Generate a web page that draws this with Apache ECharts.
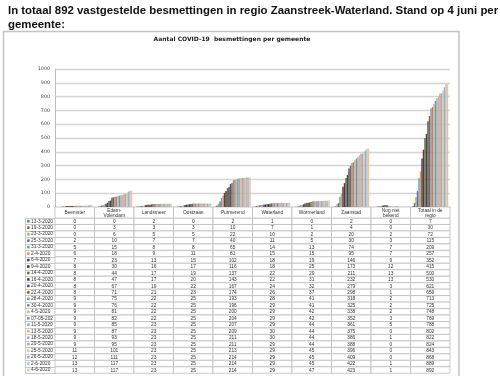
<!DOCTYPE html>
<html><head><meta charset="utf-8">
<script src="https://cdn.jsdelivr.net/npm/echarts@6/dist/echarts.min.js"></script>
<style>html,body{margin:0;padding:0;background:#fff;}#c{width:500px;height:376px;}</style>
</head><body><div id="c"></div>
<script>
const pageTitle = 'In totaal 892 vastgestelde besmettingen in regio Zaanstreek-Waterland. Stand op 4 juni per\ngemeente:';
const chartTitle = 'Aantal COVID-19  besmettingen per gemeente';
const categories = ['Beemster','Edam-\nVolendam','Landsmeer','Oostzaan','Purmerend','Waterland','Wormerland','Zaanstad','Nog niet\nbekend','Totaal in de\nregio'];
const dates = ['13-3-2020','19-3-2020','23-3-2020','25-3-2020','31-3-2020','2-4-2020','6-4-2020','9-4-2020','14-4-2020','16-4-2020','20-4-2020','22-4-2020','28-4-2020','30-4-2020','4-5-2020','07-05-202','11-5-2020','13-5-2020','18-5-2020','20-5-2020','25-5-2020','26-5-2020','2-6-2020','4-6-2020'];
const beemster     = [0,0,0,2,5,6,7,8,8,8,8,8,9,9,9,9,9,9,9,9,11,12,13,13];
const edamVolendam = [0,3,6,10,15,18,23,30,44,47,67,71,75,76,81,82,85,87,93,95,101,111,117,117];
const landsmeer    = [2,3,5,7,8,9,13,16,17,17,19,21,22,22,22,22,23,23,23,23,23,23,23,23];
const oostzaan     = [0,3,5,7,8,11,15,17,19,20,22,23,25,25,25,25,25,25,25,25,25,25,25,25];
const purmerend    = [2,10,22,40,65,81,102,116,137,143,167,174,193,196,200,204,207,209,211,211,213,214,214,214];
const waterland    = [1,7,10,11,14,15,18,18,22,22,24,26,28,29,29,29,29,30,30,29,29,29,29,29];
const wormerland   = [0,1,2,5,13,15,19,25,29,31,32,37,41,41,42,42,44,44,44,44,45,45,45,47];
const zaanstad     = [2,4,20,30,74,95,146,173,211,232,279,298,318,325,338,352,361,375,386,388,396,409,422,423];
const nogNietBekend= [0,0,2,3,7,7,9,12,13,13,3,1,2,2,2,3,5,0,1,0,0,0,1,1];
const totaal       = [7,30,72,115,209,257,352,415,500,530,621,659,713,725,748,769,788,802,822,824,843,868,889,892];
const yMin = 0, yMax = 1000, yStep = 100;

const columns = [beemster,edamVolendam,landsmeer,oostzaan,purmerend,waterland,wormerland,zaanstad,nogNietBekend,totaal];
const colors = ['#4F81BD','#C0504D','#9BBB59','#8064A2','#4BACC6','#F79646',
  '#2C4D75','#772C2A','#5F7530','#4D3B62','#276A7C','#B65708',
  '#729ACA','#CD7371','#AFC97A','#9983B5','#6FBDD1','#F9AB6B',
  '#95B3D7','#D99694','#C3D69B','#B3A2C7','#93CDDD','#FAC090'];
const gridLine = '#bdbdbd';
const tableFont = '4.8px "Liberation Sans", Arial, sans-serif';

const barSeries = dates.map((d, i) => ({
  type: 'bar', name: d, xAxisIndex: 0, yAxisIndex: 0,
  data: columns.map(col => col[i]),
  barGap: '0%', barCategoryGap: '9%',
  itemStyle: { color: colors[i] }, silent: true
}));

const cellData = [];
dates.forEach((d, r) => columns.forEach((col, c) => cellData.push([c, r, col[r]])));
const headerData = categories.map((c, i) => [i, 0]);

function cellRender(getText) {
  return function (params, api) {
    const p = api.coord([api.value(0), api.value(1)]);
    const s = api.size([1, 1]);
    return { type: 'group', children: [
      { type: 'rect', shape: { x: p[0] - s[0] / 2, y: p[1] - s[1] / 2, width: s[0], height: s[1] },
        style: { fill: '#fff', stroke: gridLine, lineWidth: 0.8 } },
      { type: 'text', x: p[0], y: p[1] + 0.3,
        style: { text: getText(params.dataIndex, api), textAlign: 'center', textVerticalAlign: 'middle',
                 align: 'center', verticalAlign: 'middle', font: tableFont, fill: '#333', lineHeight: 5.2 } }
    ]};
  };
}

const rich = { t: { fontSize: 4.8, fontFamily: 'Liberation Sans, Arial', color: '#333', padding: [0, 0, 0, 1.5] } };
colors.forEach((c, i) => { rich['s' + i] = { width: 2.6, height: 2.6, backgroundColor: c }; });

const option = {
  animation: false,
  title: { text: pageTitle, left: 3, top: -1,
    textStyle: { fontSize: 11.4, fontWeight: 'bold', color: '#111', lineHeight: 14, fontFamily: 'Liberation Sans, Arial' } },
  graphic: [
    { type: 'rect', shape: { x: 3.5, y: 31.5, width: 455.5, height: 400 }, style: { fill: 'none', stroke: '#c4c4c4', lineWidth: 1.5 }, z: -1 },
    { type: 'text', x: 232, y: 39, style: { text: chartTitle, textAlign: 'center', textVerticalAlign: 'middle', align: 'center', verticalAlign: 'middle',
        font: 'bold 6px "DejaVu Sans", Verdana, sans-serif', fill: '#222' } }
  ],
  grid: [
    { left: 55, top: 69, width: 395, height: 138 },
    { left: 55, top: 218, width: 395, height: 156 },
    { left: 55, top: 207, width: 395, height: 11 }
  ],
  xAxis: [
    { gridIndex: 0, type: 'category', data: categories, axisLabel: { show: false }, axisTick: { show: false },
      axisLine: { lineStyle: { color: gridLine } } },
    { gridIndex: 1, type: 'category', data: categories, show: false },
    { gridIndex: 2, type: 'category', data: categories, show: false }
  ],
  yAxis: [
    { gridIndex: 0, type: 'value', min: yMin, max: yMax, interval: yStep,
      axisLine: { show: true, lineStyle: { color: gridLine } }, axisTick: { show: false },
      axisLabel: { fontSize: 4.8, color: '#444', margin: 5, fontFamily: 'DejaVu Sans, Verdana', formatter: v => String(v) },
      splitLine: { lineStyle: { color: '#d4d4d4', width: 1.3 } } },
    { gridIndex: 1, type: 'category', data: dates, inverse: true,
      axisLine: { show: true, lineStyle: { color: gridLine } },
      axisTick: { show: true, length: 30, interval: 0, lineStyle: { color: gridLine, width: 0.8 } },
      axisLabel: { interval: 0, align: 'left', margin: 28, formatter: (v, i) => '{s' + i + '|}{t|' + v + '}', rich: rich } },
    { gridIndex: 1, type: 'category', data: dates, inverse: true, position: 'left', offset: 30,
      axisLine: { show: true, lineStyle: { color: gridLine, width: 0.8 } }, axisTick: { show: false }, axisLabel: { show: false } },
    { gridIndex: 2, type: 'category', data: ['h'], show: false }
  ],
  series: barSeries.concat([
    { type: 'custom', xAxisIndex: 1, yAxisIndex: 1, data: cellData, silent: true,
      renderItem: cellRender((idx, api) => String(api.value(2))) },
    { type: 'custom', xAxisIndex: 2, yAxisIndex: 3, data: headerData, silent: true,
      renderItem: cellRender((idx) => categories[idx]) }
  ])
};
const chart = echarts.init(document.getElementById('c'), null, { renderer: 'canvas' });
chart.setOption(option);
</script></body></html>
